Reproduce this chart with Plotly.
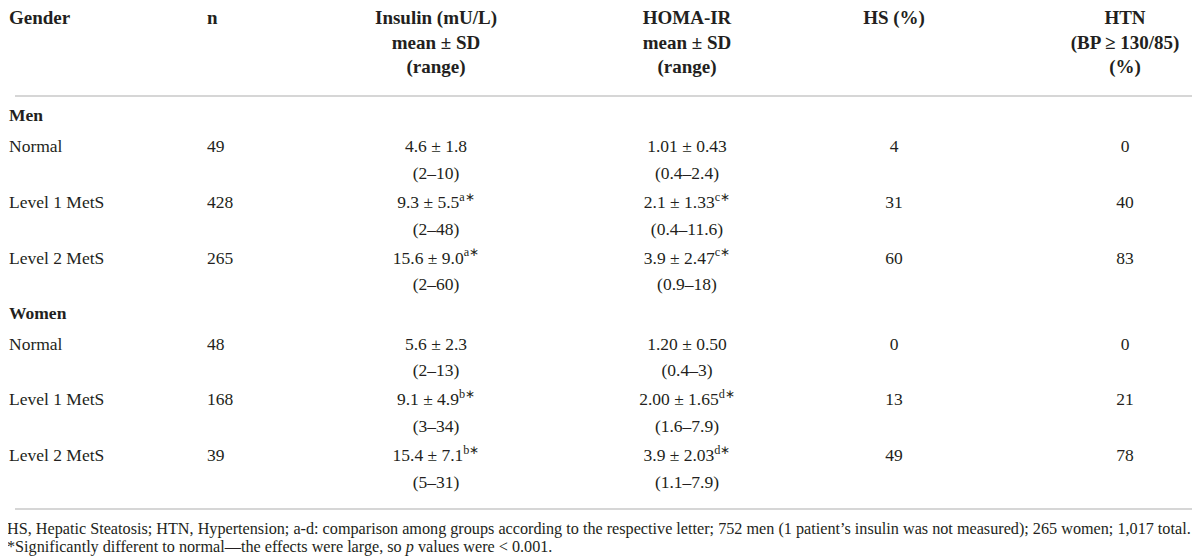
import plotly.graph_objects as go

# table contents
groups = ["Men", "Women"]
levels = ["Normal", "Level 1 MetS", "Level 2 MetS"]
n_vals = [[49, 428, 265], [48, 168, 39]]
insulin_mean = [["4.6 ± 1.8", "9.3 ± 5.5<sup>a∗</sup>", "15.6 ± 9.0<sup>a∗</sup>"],
                ["5.6 ± 2.3", "9.1 ± 4.9<sup>b∗</sup>", "15.4 ± 7.1<sup>b∗</sup>"]]
insulin_range = [["(2–10)", "(2–48)", "(2–60)"],
                 ["(2–13)", "(3–34)", "(5–31)"]]
homa_mean = [["1.01 ± 0.43", "2.1 ± 1.33<sup>c∗</sup>", "3.9 ± 2.47<sup>c∗</sup>"],
             ["1.20 ± 0.50", "2.00 ± 1.65<sup>d∗</sup>", "3.9 ± 2.03<sup>d∗</sup>"]]
homa_range = [["(0.4–2.4)", "(0.4–11.6)", "(0.9–18)"],
              ["(0.4–3)", "(1.6–7.9)", "(1.1–7.9)"]]
hs_pct = [[4, 31, 60], [0, 13, 49]]
htn_pct = [[0, 40, 83], [0, 21, 78]]

headers = [["Gender"], ["n"], ["Insulin (mU/L)", "mean ± SD", "(range)"],
           ["HOMA-IR", "mean ± SD", "(range)"], ["HS (%)"],
           ["HTN", "(BP ≥ 130/85)", "(%)"]]

footnote1 = ("HS, Hepatic Steatosis; HTN, Hypertension; a-d: comparison among groups according to the "
             "respective letter; 752 men (1 patient’s insulin was not measured); 265 women; 1,017 total.")
footnote2 = "*Significantly different to normal—the effects were large, so <i>p</i> values were < 0.001."

# layout (pixel space)
col_x = [1, 199, 428, 679, 886, 1117]
col_align = ["left", "left", "center", "center", "center", "center"]
head_y0, head_dy = 11.5, 24.5
group_y0 = 109
ink = "#231f20"
serif = "Liberation Serif"
body_size = 17.5
head_size = 19

fig = go.Figure()

def add_text(xs, ys, texts, align, size=body_size, bold=False):
    pos = {"left": "middle right", "center": "middle center"}[align]
    if bold:
        texts = ["<b>%s</b>" % t for t in texts]
    fig.add_trace(go.Scatter(x=xs, y=ys, text=texts, mode="text", textposition=pos,
                             textfont=dict(family=serif, size=size, color=ink),
                             hoverinfo="skip", showlegend=False, cliponaxis=False))

# header
for c, lines in enumerate(headers):
    add_text([col_x[c]] * len(lines), [head_y0 + i * head_dy for i in range(len(lines))],
             lines, col_align[c], size=head_size, bold=True)

# body rows
y = group_y0
for g, grp in enumerate(groups):
    add_text([col_x[0]], [y], [grp], "left", bold=True)
    y += 31
    for r, lev in enumerate(levels):
        y2 = y + 26.5
        add_text([col_x[0]], [y], [lev], "left")
        add_text([col_x[1]], [y], [str(n_vals[g][r])], "left")
        add_text([col_x[2], col_x[2]], [y, y2], [insulin_mean[g][r], insulin_range[g][r]], "center")
        add_text([col_x[3], col_x[3]], [y, y2], [homa_mean[g][r], homa_range[g][r]], "center")
        add_text([col_x[4]], [y], [str(hs_pct[g][r])], "center")
        add_text([col_x[5]], [y], [str(htn_pct[g][r])], "center")
        if r < len(levels) - 1:
            y += 55.7
    y += 55

# rules
for ry in [88, 501]:
    fig.add_shape(type="line", x0=7, x1=1193, y0=ry, y1=ry, xref="x", yref="y",
                  line=dict(color="#d6d6d6", width=2))

# footnotes
for fy, ft in [(521, footnote1), (539, footnote2)]:
    fig.add_annotation(x=1, y=fy, text=ft, showarrow=False, xref="x", yref="y",
                       xanchor="left", yanchor="middle", xshift=-4,
                       font=dict(family=serif, size=16.2, color=ink))

fig.update_xaxes(range=[0, 1200], visible=False, fixedrange=True)
fig.update_yaxes(range=[559, 0], visible=False, fixedrange=True)
fig.update_layout(width=1200, height=559, margin=dict(l=0, r=0, t=0, b=0),
                  plot_bgcolor="white", paper_bgcolor="white")

fig.write_html("out.html")
